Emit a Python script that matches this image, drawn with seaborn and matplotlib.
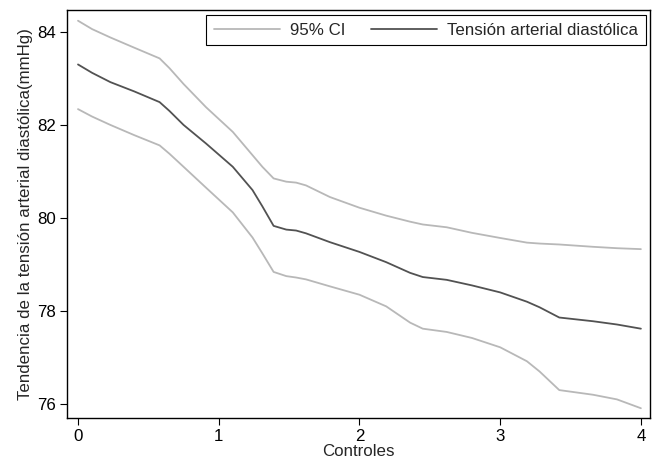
import matplotlib
matplotlib.use('Agg')
import matplotlib.pyplot as plt
import seaborn as sns
import pandas as pd

# Values
controles = [0, 0.1, 0.23, 0.4, 0.58, 0.65, 0.75, 0.91, 1.1, 1.24, 1.31, 1.39, 1.48, 1.55,
             1.62, 1.79, 2.0, 2.19, 2.36, 2.45, 2.62, 2.8, 3.0, 3.19, 3.28, 3.42, 3.66, 3.83, 4.0]
tension = [83.30, 83.12, 82.92, 82.72, 82.49, 82.30, 82.00, 81.60, 81.10, 80.60, 80.25, 79.83,
           79.75, 79.73, 79.67, 79.48, 79.27, 79.05, 78.82, 78.73, 78.67, 78.55, 78.40, 78.20,
           78.08, 77.86, 77.78, 77.71, 77.62]
ci_upper = [84.24, 84.06, 83.88, 83.66, 83.43, 83.22, 82.88, 82.38, 81.85, 81.35, 81.10, 80.85,
            80.78, 80.76, 80.70, 80.45, 80.22, 80.05, 79.92, 79.86, 79.80, 79.68, 79.57, 79.47,
            79.45, 79.43, 79.38, 79.35, 79.33]
ci_lower = [82.34, 82.18, 82.00, 81.78, 81.56, 81.38, 81.10, 80.65, 80.12, 79.58, 79.24, 78.84,
            78.75, 78.72, 78.68, 78.53, 78.35, 78.10, 77.75, 77.62, 77.55, 77.42, 77.22, 76.92,
            76.70, 76.30, 76.20, 76.10, 75.91]
x_ticks = [0, 1, 2, 3, 4]
y_ticks = [76, 78, 80, 82, 84]

sns.set_style('ticks')
plt.rcParams['font.family'] = ['Liberation Sans', 'DejaVu Sans']

df = pd.DataFrame({'x': controles, 'mean': tension, 'hi': ci_upper, 'lo': ci_lower})

fig = plt.figure(figsize=(6.52, 4.66), dpi=100)
ax = fig.add_axes([0.1028, 0.103, 0.8942, 0.8755])

ci_color = '#b8b8b8'
mean_color = '#525252'
fs = 12.2
sns.lineplot(data=df, x='x', y='hi', color=ci_color, lw=1.3, ax=ax, label='95% CI')
sns.lineplot(data=df, x='x', y='lo', color=ci_color, lw=1.3, ax=ax)
sns.lineplot(data=df, x='x', y='mean', color=mean_color, lw=1.3, ax=ax,
             label='Tensión arterial diastólica')

ax.set_xlim(-0.078, 4.065)
ax.set_ylim(75.70, 84.47)
ax.set_xticks(x_ticks)
ax.set_yticks(y_ticks)
ax.tick_params(labelsize=fs, length=5, width=0.8, colors='black', pad=3)
ax.set_xlabel('Controles', fontsize=fs, labelpad=0)
ax.set_ylabel('Tendencia de la tensión arterial diastólica(mmHg)', fontsize=fs, labelpad=3)
for s in ax.spines.values():
    s.set_linewidth(1.0)
    s.set_color('black')

leg = ax.legend(ncol=2, loc='upper right', bbox_to_anchor=(0.993, 0.988), borderaxespad=0,
                fontsize=fs, frameon=True, fancybox=False, edgecolor='black', framealpha=1,
                handlelength=3.9, handletextpad=0.6, columnspacing=1.5, borderpad=0.45)
leg.get_frame().set_linewidth(0.8)

fig.savefig('out.png', dpi=100)
